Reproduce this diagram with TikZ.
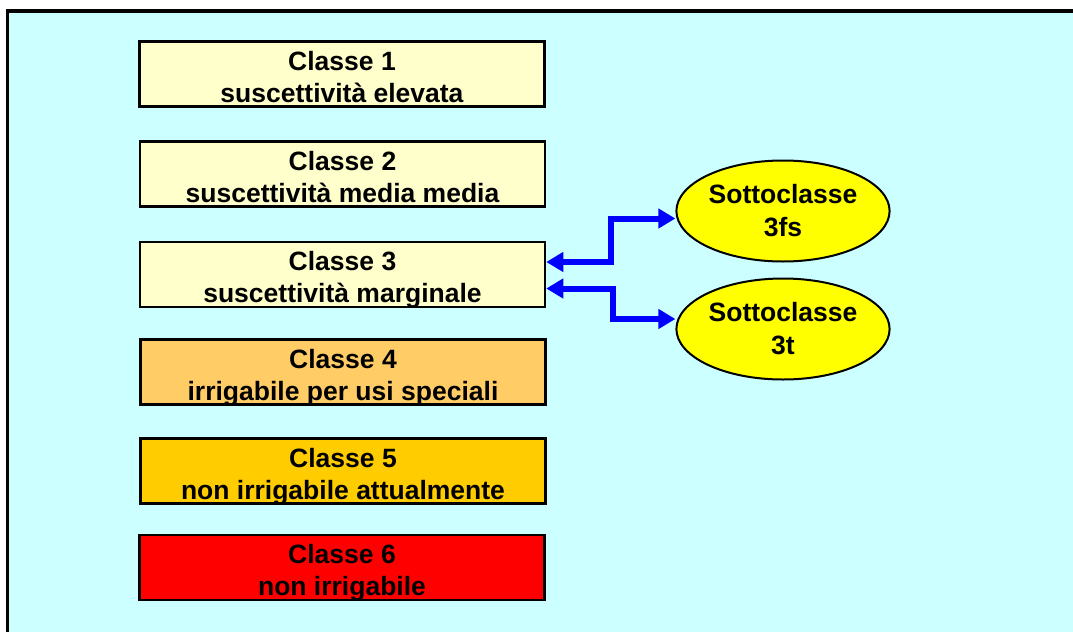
\documentclass[tikz,border=0pt]{standalone}
\usepackage{fontspec}
\setmainfont{Liberation Sans}
\usetikzlibrary{shapes.geometric,arrows.meta}
\definecolor{sfondo}{HTML}{CCFFFF}
\definecolor{chiaro}{HTML}{FFFFCC}
\definecolor{arancio}{HTML}{FFCC66}
\definecolor{oro}{HTML}{FFCC00}
\definecolor{rosso}{HTML}{FF0000}
\definecolor{giallo}{HTML}{FFFF00}
\definecolor{blu}{HTML}{0000FF}
\newcommand{\duerighe}[2]{\begin{tabular}[b]{@{}c@{}}#1\\#2\end{tabular}}

\begin{document}
\begin{tikzpicture}[x=1pt,y=-1pt,
  classe/.style={draw=black,line width=2.5pt,minimum width=405pt,minimum height=65pt,
    inner sep=0pt,text height=60.5pt,text depth=4.5pt,
    font=\fontsize{26.5}{32}\selectfont\bfseries},
  sotto/.style={ellipse,draw=black,line width=2pt,fill=giallo,minimum width=210pt,
    minimum height=101pt,inner sep=1pt,align=center,font=\fontsize{26.5}{33}\selectfont\bfseries},
  freccia/.style={blu,line width=6pt,{Triangle[length=17pt,width=19pt]}-{Triangle[length=17pt,width=19pt]}}]
\useasboundingbox (0,0) rectangle (1073,632);
\fill[sfondo] (7.7,11) rectangle (1073,632);
\draw[line width=3.5pt] (7.7,632) -- (7.7,11) -- (1073,11);

\node[classe,fill=chiaro] (c1) at (342,74) {\duerighe{Classe 1}{suscettività elevata}};
\node[classe,fill=chiaro] (c2) at (342.5,174) {\duerighe{Classe 2}{suscettività media media}};
\node[classe,fill=chiaro] (c3) at (342.5,274.5) {\duerighe{Classe 3}{suscettività marginale}};
\node[classe,fill=arancio] (c4) at (343,372) {\duerighe{Classe 4}{irrigabile per usi speciali}};
\node[classe,fill=oro] (c5) at (343,471) {\duerighe{Classe 5}{non irrigabile attualmente}};
\node[classe,fill=rosso] (c6) at (342,567.5) {\duerighe{Classe 6}{non irrigabile}};

\node[sotto] (s3fs) at (783,211) {Sottoclasse\\3fs};
\node[sotto] (s3t) at (783,329) {Sottoclasse\\3t};

\draw[freccia] ([yshift=12.5pt]c3.east) -- ++(65,0) |- ([yshift=-7.5pt]s3fs.west);
\draw[freccia] ([yshift=-14pt]c3.east) -- ++(67,0) |- ([yshift=10pt]s3t.west);
\end{tikzpicture}
\end{document}
